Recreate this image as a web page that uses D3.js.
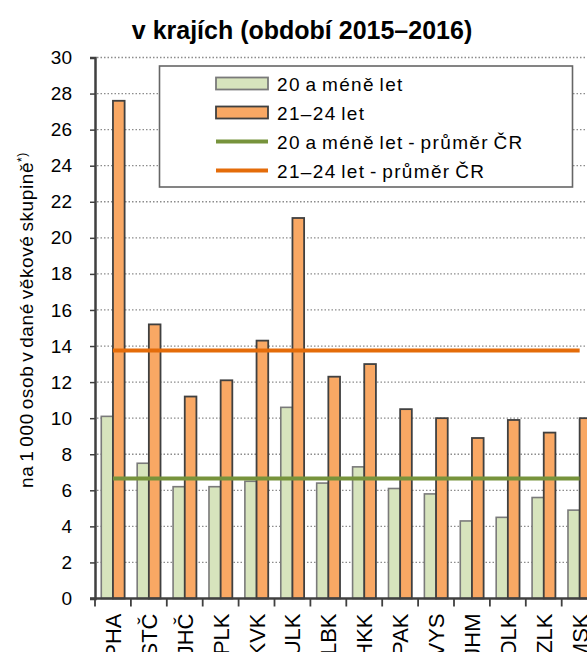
<!DOCTYPE html>
<html>
<head>
<meta charset="utf-8">
<script src="https://cdn.jsdelivr.net/npm/d3@7"></script>
<style>
  body { margin: 0; background: #fff; }
  svg { display: block; font-family: "Liberation Sans", Arial, sans-serif; }
</style>
</head>
<body>
<div id="chart"></div>
<script>
// data
var kraje = ["PHA", "STČ", "JHČ", "PLK", "KVK", "ULK", "LBK", "HKK", "PAK", "VYS", "JHM", "OLK", "ZLK", "MSK"];
var do20 = [10.1, 7.5, 6.2, 6.2, 6.5, 10.6, 6.4, 7.3, 6.1, 5.8, 4.3, 4.5, 5.6, 4.9];
var od21do24 = [27.6, 15.2, 11.2, 12.1, 14.3, 21.1, 12.3, 13.0, 10.5, 10.0, 8.9, 9.9, 9.2, 10.0];
var prumerDo20 = 6.65;
var prumer21do24 = 13.75;
var yTicks = [0, 2, 4, 6, 8, 10, 12, 14, 16, 18, 20, 22, 24, 26, 28, 30];

var W = 587, H = 652;
var plotL = 95, plotR = 597.6, plotT = 57.5, plotB = 598.5;

var svg = d3.select("#chart").append("svg")
    .attr("width", W)
    .attr("height", H);

var x = d3.scaleBand()
    .domain(kraje)
    .range([plotL, plotR]);

var y = d3.scaleLinear()
    .domain([0, 30])
    .range([plotB, plotT]);

var barW = x.bandwidth() * 0.325;

// title
svg.append("text")
    .attr("x", 302)
    .attr("y", 39)
    .attr("text-anchor", "middle")
    .style("font-size", "25px")
    .style("font-weight", "bold")
    .text("v krajích (období 2015–2016)");

// gridlines
svg.append("g")
    .selectAll("line")
    .data(yTicks.filter(d => d > 0))
    .enter().append("line")
    .attr("x1", plotL + 2)
    .attr("x2", W)
    .attr("y1", d => y(d))
    .attr("y2", d => y(d))
    .attr("stroke", "#8c8c8c")
    .attr("stroke-width", 1.3)
    .attr("stroke-dasharray", "1.5,2");

// bars
var grp = svg.append("g");
grp.selectAll(".g20")
    .data(kraje)
    .enter().append("rect")
    .attr("x", (d, i) => x(d) + x.bandwidth() / 2 - barW)
    .attr("y", (d, i) => y(do20[i]))
    .attr("width", barW)
    .attr("height", (d, i) => plotB - y(do20[i]))
    .attr("fill", "#d7e4bd")
    .attr("stroke", "#7a7a7a")
    .attr("stroke-width", 1.6);

grp.selectAll(".g21")
    .data(kraje)
    .enter().append("rect")
    .attr("x", (d, i) => x(d) + x.bandwidth() / 2)
    .attr("y", (d, i) => y(od21do24[i]))
    .attr("width", barW)
    .attr("height", (d, i) => plotB - y(od21do24[i]))
    .attr("fill", "#f9a864")
    .attr("stroke", "#404040")
    .attr("stroke-width", 1.8);

// average lines from first to last category centre
var xc = d => x(d) + x.bandwidth() / 2;
svg.append("line")
    .attr("x1", xc(kraje[0])).attr("x2", xc(kraje[kraje.length - 1]))
    .attr("y1", y(prumerDo20)).attr("y2", y(prumerDo20))
    .attr("stroke", "#77933c").attr("stroke-width", 4);
svg.append("line")
    .attr("x1", xc(kraje[0])).attr("x2", xc(kraje[kraje.length - 1]))
    .attr("y1", y(prumer21do24)).attr("y2", y(prumer21do24))
    .attr("stroke", "#e46c0a").attr("stroke-width", 4);

// y axis
var yAxis = svg.append("g")
    .attr("transform", "translate(" + plotL + ",0)")
    .call(d3.axisLeft(y).tickValues(yTicks).tickSize(5).tickPadding(18));
yAxis.select(".domain").attr("stroke", "#404040").attr("stroke-width", 2.5);
yAxis.selectAll(".tick line").attr("stroke", "#404040").attr("stroke-width", 1.5);
yAxis.selectAll("text")
    .style("font-size", "19px")
    .style("font-family", "Liberation Sans, Arial, sans-serif")
    .attr("fill", "#000");

// x axis
var xAxis = svg.append("g")
    .attr("transform", "translate(0," + plotB + ")");
xAxis.append("line")
    .attr("x1", plotL - 5).attr("x2", W)
    .attr("stroke", "#404040").attr("stroke-width", 2.5);
xAxis.selectAll(".tk")
    .data(kraje.concat(["_end"]))
    .enter().append("line")
    .attr("x1", (d, i) => plotL + i * x.step())
    .attr("x2", (d, i) => plotL + i * x.step())
    .attr("y1", 0).attr("y2", 8)
    .attr("stroke", "#404040").attr("stroke-width", 1.8);
xAxis.selectAll(".lbl")
    .data(kraje)
    .enter().append("text")
    .attr("transform", d => "translate(" + (xc(d) + 8) + ",15) rotate(-90)")
    .attr("text-anchor", "end")
    .style("font-size", "22px")
    .text(d => d);

// y axis title
svg.append("text")
    .attr("transform", "translate(33,320) rotate(-90)")
    .attr("text-anchor", "middle")
    .style("font-size", "19px")
    .style("letter-spacing", "0.6px")
    .style("word-spacing", "-2px")
    .html('na 1 000 osob v dané věkové skupině<tspan dy="-7" font-size="12px">*)</tspan>');

// legend
var lg = svg.append("g");
lg.append("rect")
    .attr("x", 159.5).attr("y", 66)
    .attr("width", 413).attr("height", 121)
    .attr("fill", "#fff")
    .attr("stroke", "#666").attr("stroke-width", 1.6);

var legendItems = [
    { name: "20 a méně let", type: "rect", fill: "#d7e4bd", stroke: "#7a7a7a" },
    { name: "21–24 let", type: "rect", fill: "#f9a864", stroke: "#404040" },
    { name: "20 a méně let - průměr ČR", type: "line", stroke: "#77933c" },
    { name: "21–24 let - průměr ČR", type: "line", stroke: "#e46c0a" }
];
legendItems.forEach(function(d, i) {
    var cy = 83.5 + i * 29;
    if (d.type == "rect") {
        lg.append("rect")
            .attr("x", 216).attr("y", cy - 6)
            .attr("width", 52).attr("height", 12)
            .attr("fill", d.fill).attr("stroke", d.stroke).attr("stroke-width", 1.8);
    } else {
        lg.append("line")
            .attr("x1", 216).attr("x2", 268)
            .attr("y1", cy).attr("y2", cy)
            .attr("stroke", d.stroke).attr("stroke-width", 4);
    }
    lg.append("text")
        .attr("x", 277).attr("y", cy + 7)
        .style("font-size", "19px")
        .style("letter-spacing", "1.35px")
        .style("word-spacing", "-2px")
        .text(d.name);
});
</script>
</body>
</html>
